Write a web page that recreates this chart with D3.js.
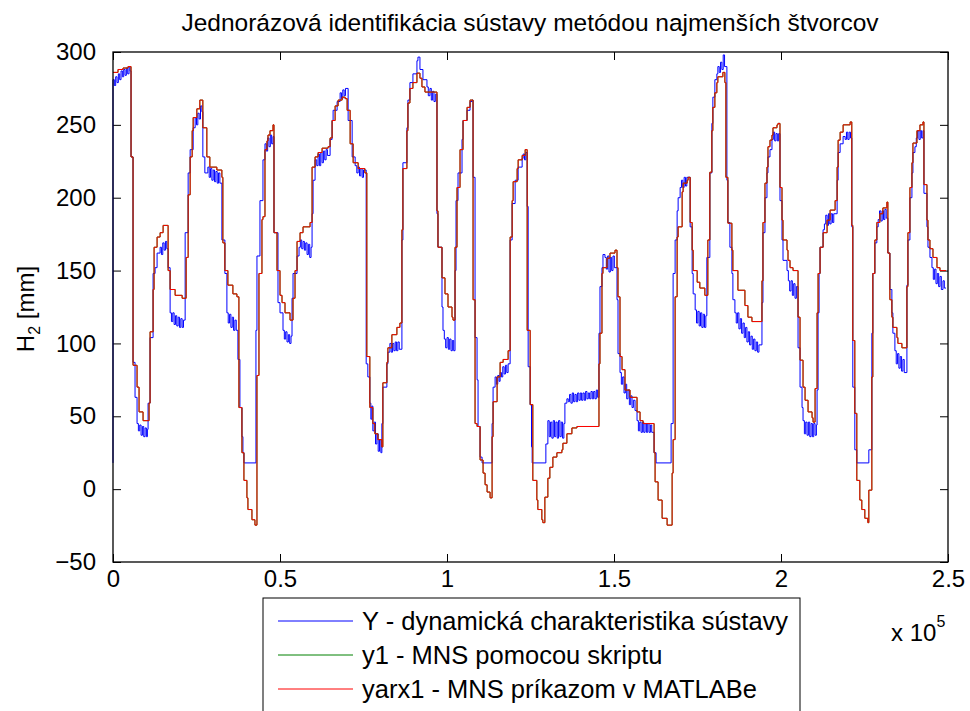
<!DOCTYPE html>
<html>
<head>
<meta charset="utf-8">
<script src="https://cdn.jsdelivr.net/npm/d3@7"></script>
<style>
  body { margin: 0; background: #fff; }
  svg { display: block; font-family: "Liberation Sans", Arial, sans-serif; }
</style>
</head>
<body>
<div id="chart"></div>
<script>

// x values are samples in thousands (axis shows x 10^5)
var xTicks = [0, 50, 100, 150, 200, 250];
var xTickLabels = ["0", "0.5", "1", "1.5", "2", "2.5"];
var yTicks = [-50, 0, 50, 100, 150, 200, 250, 300];

var legendLabels = ["Y - dynamická charakteristika sústavy", "y1 - MNS pomocou skriptu", "yarx1 - MNS príkazom v MATLABe"];
var seriesColors = ["#0000ff", "#008000", "#ff0000"];

// Y - measured (blue)
var dataY = [
[0,18],[0,281],[0.4,277],[0.8,283],[1.2,279],[1.6,285],[2.0,281],[2.4,287],[2.8,283],[3.2,288],[3.6,284],[4.0,289],[4.4,285],[4.8,290],[5.1,287],
[5.4,228],[6.0,87],[6.6,63],[7.2,45],[7.6,40],[8.0,44],[8.4,37],[8.8,43],[9.2,36],[9.6,42],[10.0,36],[10.3,41],
[10.5,59],[11.1,104],[12.0,148],[12.6,152],[13.2,162],[14.1,166],[14.5,161],[14.9,169],[15.3,164],[15.7,170],[16.1,165],
[16.5,152],[17.1,121],[17.5,115],[17.9,121],[18.3,113],[18.7,119],[19.1,112],[19.5,118],[19.9,111],[20.3,117],[20.7,111],[21.1,116],
[21.6,176],[22.5,217],[23.1,233],[24.0,248],[24.6,255],[25.0,250],[25.4,258],[25.8,254],[26.2,263],[26.6,259],
[26.9,228],[27.5,217],[28.4,221],[28.8,214],[29.2,220],[29.6,212],[30.0,219],[30.4,211],[30.8,218],[31.2,210],[31.6,217],[32.0,210],
[32.6,171],[33.5,148],[34.1,121],[34.5,114],[34.9,120],[35.3,111],[35.7,118],[36.1,109],[36.5,116],[36.9,109],
[37.4,89],[38.0,56],[38.6,36],[38.9,25],[39.2,18],
[42.8,109],[43.1,160],[44.0,198],[44.9,226],[45.5,237],[45.9,232],[46.3,241],[46.7,235],[47.1,243],[47.5,237],[47.9,242],
[48.2,176],[49.4,128],[50.0,121],[50.9,109],[51.3,103],[51.7,108],[52.1,101],[52.5,106],[52.9,100],[53.3,105],
[53.6,131],[53.9,148],[55.1,160],[55.7,166],[56.1,171],[56.5,165],[56.9,170],[57.3,164],[57.7,169],[58.1,161],[58.5,168],[58.9,159],[59.3,166],
[59.6,189],[59.9,212],[60.5,226],[61.0,222],[61.4,230],[61.8,222],[62.2,231],[62.6,224],[63.0,232],[63.4,226],[63.8,233],[64.2,229],
[65.0,240],[65.6,253],[65.9,260],[67.1,266],[68.0,272],[68.4,268],[68.8,274],[69.2,270],[69.6,275],
[70.4,253],[71.6,228],[72.5,222],[73.0,217],[73.4,221],[73.8,215],[74.2,220],[74.6,214],[75.0,219],
[75.8,86],[76.3,77],[76.9,59],[77.2,48],[77.5,57],[77.8,40],[78.2,46],[78.6,31],[79.0,38],[79.4,26],[79.8,34],[80.2,25],
[80.5,45],[80.8,70],[82.0,86],[82.3,94],[82.9,100],[83.3,94],[83.7,100],[84.1,95],[84.5,101],[84.9,95],[85.3,101],[85.7,96],
[86.5,171],[86.8,224],[88.0,248],[88.3,267],[88.9,279],[89.8,285],[91.0,294],[91.3,296.5],[91.9,288],[92.8,281],[94.0,276],[94.4,270],[94.9,275],[95.3,267],[95.7,273],[96.1,266],[96.5,271],
[97.0,189],[97.3,166],[98.5,125],[98.8,109],[99.2,103],[99.6,97],[100.0,104],[100.4,96],[100.8,103],[101.2,95],[101.6,102],[102.0,95],
[102.4,150],[102.7,198],[103.3,217],[104.5,240],[104.8,253],[106.0,260],[106.9,266],[107.5,267],
[107.8,214],[108.4,104],[109.0,75],[109.3,43],[109.9,22],[110.5,18],
[113.5,45],[113.8,70],[114.4,77],[114.8,72],[115.2,78],[115.6,74],[115.9,80],[116.3,77],[116.7,84],[117.1,79],[117.5,85],[117.9,80],[118.3,86],
[118.9,171],[119.5,196],[120.4,212],[121.3,221],[122.5,227],[122.8,230],[123.2,226],[123.6,231],
[124.0,194],[124.3,84],[124.9,58],[125.3,29],[125.5,18],
[129.6,31],[130.2,47],[130.6,36],[131.0,46],[131.4,35],[131.8,47],[132.2,36],[132.6,46],[133.0,35],[133.4,47],[133.8,36],[134.2,46],[134.6,35],[135.0,45],
[135.3,59],[135.9,62],[136.3,60],[136.7,65],[137.1,59],[137.5,66],[137.9,60],[138.3,65],[138.7,60],[139.1,66],[139.5,61],[139.9,66],[140.3,61],[140.7,66],[141.1,61],[141.5,67],[141.9,62],[142.3,66],[142.7,62],[143.1,67],[143.5,62],[143.9,67],[144.3,62],[144.7,68],[145.1,63],
[145.5,107],[145.8,139],[146.4,152],[146.7,161],[147.3,159],[147.7,151],[148.1,160],[148.5,149],[148.9,159],[149.3,150],[149.7,160],[150.1,152],
[150.9,130],[151.2,93],[151.8,80],[152.2,72],[152.6,77],[153.0,66],[153.4,72],[153.8,62],[154.2,68],[154.6,58],[155.0,64],[155.4,56],[155.8,61],
[156.3,54],[156.9,47],[157.3,40],[157.7,46],[158.1,39],[158.5,46],[158.9,39],[159.3,45],[159.7,39],[160.1,45],[160.5,39],[160.9,44],[161.3,39],
[162.0,25],[162.6,18],
[167.1,45],[167.7,148],[168.3,171],[168.9,191],[169.2,200],[169.8,207],[170.2,212],[170.6,207],[171.0,214],[171.4,208],[171.8,214],
[172.8,180],[173.4,148],[173.7,134],[174.3,123],[174.7,114],[175.1,122],[175.5,112],[175.9,121],[176.3,111],[176.7,120],[177.1,111],[177.5,119],
[177.8,159],[178.7,217],[179.3,251],[179.6,269],[180.2,281],[180.8,285],[181.1,290],[181.5,286],[181.9,293],[182.3,288],[182.7,298],[183.1,290],
[183.8,212],[184.1,183],[184.7,166],[185.3,148],[185.6,130],[186.2,121],[186.6,114],[187.0,121],[187.4,110],[187.8,117],[188.2,107],[188.6,114],[189.0,104],[189.4,111],[189.8,101],[190.2,108],[190.6,99],[191.0,105],[191.4,96],[191.8,103],[192.2,95],[192.6,101],[193.0,94],[193.4,99],
[194.3,128],[194.6,176],[195.2,200],[195.8,217],[196.1,228],[196.7,233],[197.3,240],[197.7,245],[198.1,239],[198.5,244],[198.9,239],[199.3,244],
[199.7,198],[200.3,171],[200.6,157],[201.8,150],[202.2,143],[202.6,136],[203.0,143],[203.4,133],[203.8,141],[204.2,131],[204.6,139],
[205.1,97],[205.7,70],[206.3,56],[206.6,47],[207.0,38],[207.4,46],[207.8,37],[208.2,46],[208.6,36],[209.0,45],[209.4,36],[209.8,45],[210.2,37],[210.6,44],
[210.8,68],[211.1,121],[211.4,148],[211.7,166],[212.6,178],[213.0,182],[213.4,188],[213.8,181],[214.2,189],[214.6,182],[215.0,189],[215.4,183],[215.8,189],
[216.8,212],[217.1,231],[217.7,237],[218.6,242],[219.2,240],[219.6,245],[220.0,240],[220.4,245],[220.8,241],
[221.2,180],[221.5,70],[222.1,27],[222.7,18],
[226.3,27],[227.2,107],[227.5,148],[228.1,169],[228.7,180],[229.1,185],[229.5,191],[229.9,184],[230.3,191],[230.7,185],[231.1,192],[231.5,186],
[232.0,162],[232.6,137],[233.2,121],[233.5,107],[234.1,95],[234.5,86],[234.9,93],[235.3,83],[235.7,91],[236.1,81],[236.5,89],[236.9,80],
[237.7,140],[238.0,171],[238.6,200],[239.2,217],[239.5,231],[240.1,235],[240.5,241],[240.9,246],[241.3,240],[241.7,246],[242.1,241],[242.5,246],
[242.8,203],[243.7,180],[244.0,166],[244.6,159],[245.2,152],[245.6,144],[246.0,151],[246.4,141],[246.8,148],[247.2,139],[247.6,146],[248.0,137],[248.5,143],[248.9,138],[249.4,138]
];

// yarx1 - ARX model output (red)
var dataYarx1 = [
[0,286],[1.5,288],[3,289],[4.5,290],
[5.4,228],[6.0,85],[7.2,70],[7.8,53],[9.0,47],[10.8,59],[11.1,108],[12.0,137],[12.3,166],[13.2,173],[14.1,176],[15.0,181],[16.5,150],[17.1,137],[18.6,133],[20.7,131],
[21.9,159],[22.5,202],[23.1,228],[23.7,246],[24.0,255],[25.1,261],[26.0,267],[26.9,248],[28.1,228],[29.0,221],[31.1,219],[32.6,214],[32.9,169],[33.5,150],[34.4,140],[35.9,134],[37.1,132],
[37.7,56],[38.6,25],[39.2,6],[40.1,-6],[40.4,-14],[41.6,-21],[42.5,-24.7],[43.1,78],[43.7,148],[44.6,185],[44.9,187],[45.5,233],[46.1,239],[46.4,243],[47.0,246],[47.9,250],
[48.2,176],[49.1,150],[50.0,133],[50.6,128],[51.5,121],[53.0,116],[53.9,131],[54.5,150],[55.1,170],[56.0,176],[56.9,180],[59.0,183],[59.6,221],[60.5,228],[61.4,231],[62.6,234],[64.4,235],[65.0,241],[65.6,253],[66.5,263],[67.4,267],[68.6,269],[69.5,268],
[70.1,260],[71.0,237],[71.9,224],[73.4,220],[75.4,217],[76.0,91],[76.9,56],[77.8,45],[78.4,38],[79.3,34],[80.5,29],[80.8,73],[82.0,87],[82.3,97],[83.5,106],[85.0,111],[85.9,114],
[86.5,178],[86.8,220],[88.0,246],[88.3,265],[88.9,275],[89.8,279],[91.0,285.5],[91.9,282],[92.5,276],[93.4,272.5],
[97.0,191],[97.3,166],[98.5,145],[99.4,134],[100.3,125],[101.5,118],[101.8,116],[102.4,166],[103.0,207],[103.9,233],[104.8,253],[106.0,262],[106.9,267],
[107.8,130],[108.4,45],[109.0,43],[109.9,20],[110.8,11],[111.4,3],[112.0,-2],[112.9,-6],[113.5,36],[113.8,60],[115.0,77],[115.9,87],[116.8,89],[118.3,95],
[118.9,173],[119.5,198],[119.8,211],[121.0,220],[121.3,226],[122.5,229],[123.4,233],
[124.0,109],[124.9,58],[125.7,6],[126.9,-7.5],[127.2,-14],[128.4,-21],[128.7,-23],[129.3,-5.5],[130.2,7.5],[130.8,15],[131.7,22],[132.9,25],[134.4,27],[134.7,31.5],[135.9,38],[137.4,42],[138.9,43],
[145.5,86],[145.8,107],[146.4,148],[146.7,152],[147.9,158.5],[148.8,162],[150.3,164],[150.9,152],[151.2,132],[151.8,91],[152.4,82],[153.3,68],[154.8,63],[156.9,53],[157.8,47],[158.7,45],
[162.0,25],[162.3,5],[163.2,-7.5],[164.4,-20],[165.9,-24.7],[167.4,11],[167.7,34],[168.3,132],[168.9,173],[169.2,180],[170.4,204],[170.7,210],[171.9,212],[172.2,214],
[172.8,183],[173.4,164],[173.7,150],[174.9,142],[175.7,138],[177.2,133],
[178.1,171],[178.7,217.5],[179.3,246],[179.6,262],[180.2,272],[180.8,279],[181.1,283],[182.6,286],[183.2,279],
[183.5,214],[184.1,182.5],[185.3,164],[185.6,150],[187.1,136.5],[189.2,126],[190.1,118],[191.3,115],
[194.3,143],[194.6,183],[195.2,210],[195.8,221],[196.1,235],[196.7,239.5],[197.3,243],[197.6,248],[198.8,250],[199.1,251],
[199.7,207],[200.3,184.6],[200.6,171],[201.8,164],[202.1,157],[202.7,152],[203.6,150],
[205.1,118],[205.7,88.5],[206.6,70],[207.2,61],[208.1,53],[209.3,49],[209.6,46],[210.2,69],[210.8,121],[211.1,148],[211.7,166],[212.6,176],[213.8,184.6],[214.7,191.5],[216.2,198],
[216.8,221],[217.1,239.5],[217.7,245],[218.6,250],[220.7,252],
[221.2,181],[221.5,102],[222.1,52],[222.7,6],[223.6,-7.5],[224.2,-14],[225.1,-20],[226.0,-23],[226.3,-0.7],[227.2,77],[227.5,148],[228.1,171],[228.7,183],[229.6,189],[230.5,193],[231.7,197],
[232.0,162],[232.6,130],[233.2,118],[233.5,111],[234.7,104],[235.0,100],[236.2,97],
[237.7,139],[238.0,176],[238.6,207],[239.2,224],[239.5,237.5],[240.7,246],[241.6,250],[242.5,252],
[242.8,209],[243.7,184.6],[244.0,171],[244.6,165],[245.5,159],[246.7,152],[247.6,150],[249.4,150]
];

// y1 - script model output (green), drawn under yarx1 and indistinguishable from it
var dataY1 = dataYarx1;

var W = 970, H = 711;
var plotL = 113, plotT = 52, plotR = 948, plotB = 562;

var svg = d3.select("#chart").append("svg")
	.attr("width", W)
	.attr("height", H);

var x = d3.scaleLinear().domain([0, 250]).range([plotL, plotR]);
var y = d3.scaleLinear().domain([-50, 300]).range([plotB, plotT]);

/********************************************************************
* axes (MATLAB style box, ticks inside)
*********************************************************************/
var tickLen = 8;

svg.append("g")
	.attr("transform", "translate(0," + plotB + ")")
	.call(d3.axisBottom(x).tickValues(xTicks).tickSize(-tickLen).tickPadding(8)
		.tickFormat(function(d, i){ return xTickLabels[i]; }))
	.call(function(g){ g.select(".domain").remove(); });

svg.append("g")
	.attr("transform", "translate(0," + plotT + ")")
	.call(d3.axisTop(x).tickValues(xTicks).tickSize(-tickLen).tickFormat(""))
	.call(function(g){ g.select(".domain").remove(); });

svg.append("g")
	.attr("transform", "translate(" + plotL + ",0)")
	.call(d3.axisLeft(y).tickValues(yTicks).tickSize(-tickLen).tickPadding(17))
	.call(function(g){ g.select(".domain").remove(); });

svg.append("g")
	.attr("transform", "translate(" + plotR + ",0)")
	.call(d3.axisRight(y).tickValues(yTicks).tickSize(-tickLen).tickFormat(""))
	.call(function(g){ g.select(".domain").remove(); });

svg.selectAll(".tick line").attr("stroke", "#000").attr("stroke-width", 1);
svg.selectAll(".tick text")
	.attr("font-family", "'Liberation Sans', Arial, sans-serif")
	.attr("font-size", 24)
	.attr("fill", "#000");

/********************************************************************
* series
*********************************************************************/
var line = d3.line()
	.x(function(d){ return x(d[0]); })
	.y(function(d){ return y(d[1]); })
	.curve(d3.curveStepAfter);

[dataY, dataY1, dataYarx1].forEach(function(data, i){
	svg.append("path")
		.datum(data)
		.attr("fill", "none")
		.attr("stroke", seriesColors[i])
		.attr("stroke-width", 1)
		.attr("d", line);
});

// box on top
svg.append("rect")
	.attr("x", plotL).attr("y", plotT)
	.attr("width", plotR - plotL).attr("height", plotB - plotT)
	.attr("fill", "none").attr("stroke", "#000").attr("stroke-width", 1.3);

/********************************************************************
* texts
*********************************************************************/
svg.append("text")
	.attr("x", 530).attr("y", 31)
	.attr("text-anchor", "middle")
	.attr("font-size", 24.5)
	.text("Jednorázová identifikácia sústavy metódou najmenších štvorcov");

var ylab = svg.append("text")
	.attr("transform", "translate(34," + ((plotT + plotB) / 2 + 2) + ") rotate(-90)")
	.attr("text-anchor", "middle")
	.attr("font-size", 24);
ylab.append("tspan").text("H");
ylab.append("tspan").attr("font-size", 16).attr("dy", 6).text("2");
ylab.append("tspan").attr("dy", -6).text(" [mm]");

var mult = svg.append("text")
	.attr("x", 891).attr("y", 641)
	.attr("font-size", 24);
mult.append("tspan").text("x 10");
mult.append("tspan").attr("font-size", 16).attr("dy", -14).text("5");

/********************************************************************
* legend
*********************************************************************/
var lg = svg.append("g");
lg.append("rect")
	.attr("x", 263).attr("y", 598)
	.attr("width", 537).attr("height", 150)
	.attr("fill", "#fff").attr("stroke", "#000").attr("stroke-width", 1);

var rows = lg.selectAll(".row")
	.data(legendLabels)
	.enter()
	.append("g")
	.attr("transform", function(d, i){ return "translate(0," + (621 + i * 34) + ")"; });

rows.append("line")
	.attr("x1", 278).attr("x2", 353)
	.attr("stroke", function(d, i){ return seriesColors[i]; })
	.attr("stroke-width", 1);

rows.append("text")
	.attr("x", 362).attr("y", 9)
	.attr("font-size", 25.5)
	.text(function(d){ return d; });

</script>
</body>
</html>
